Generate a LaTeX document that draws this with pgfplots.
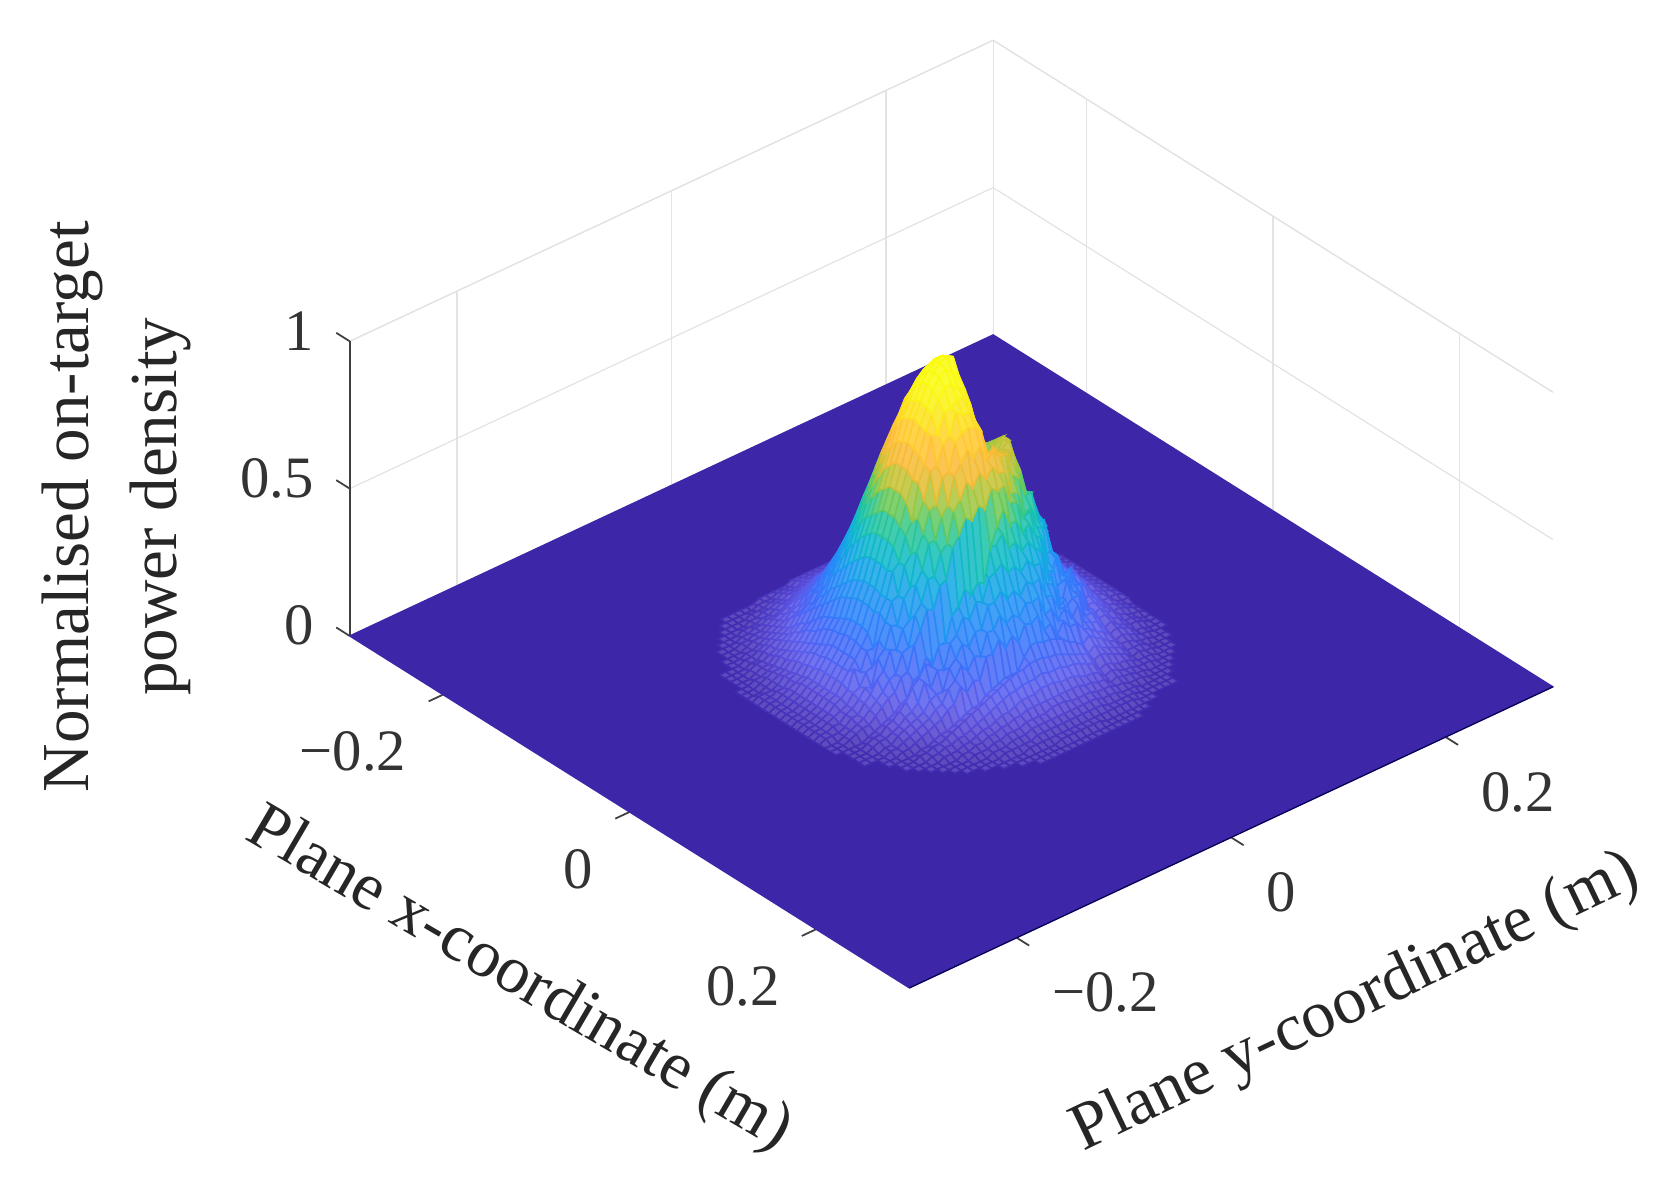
\documentclass[border=0pt]{standalone}
\usepackage{fontspec}
\setmainfont{Liberation Serif}
\usepackage{pgfplots}
\usepackage{pgfplotstable}
\pgfplotsset{compat=1.18}

% z in percent of the peak; rows run along x (-0.144..0.144), columns along y
\pgfplotstableread[header=false]{
0 0 0 0 0 0 0 0 0 1 1 1 1 1 1 2 2 2 2 2 3 3 3 3 3 3 3 3 3 3 3 2 2 2 2 2 1 1 1 1 1 1 0 0 0 0 0 0 0
0 0 0 0 0 0 0 0 1 1 1 1 1 1 2 2 2 3 3 3 4 4 4 4 4 4 4 4 4 4 4 3 3 3 2 2 2 1 1 1 1 1 1 0 0 0 0 0 0
0 0 0 0 0 0 0 1 1 1 1 1 2 2 2 3 3 4 4 4 5 5 5 5 6 6 6 5 5 5 5 4 4 4 3 3 2 2 2 1 1 1 1 1 0 0 0 0 0
0 0 0 0 0 0 1 1 1 1 1 2 2 3 3 4 4 5 5 6 6 7 7 7 7 7 7 7 7 7 6 6 5 5 4 4 3 3 2 2 1 1 1 1 1 0 0 0 0
0 0 0 0 0 1 1 1 1 2 2 2 3 3 4 5 5 6 7 7 8 9 9 9 10 10 10 9 9 9 8 7 7 6 5 5 4 3 3 2 2 2 1 1 1 1 0 0 0
0 0 0 0 1 1 1 1 2 2 3 3 4 4 5 6 7 8 9 10 11 11 12 12 12 13 12 12 12 11 11 10 9 8 7 6 5 4 4 3 3 2 2 1 1 1 1 0 0
0 0 0 0 1 1 1 2 2 3 3 4 5 6 7 8 9 10 11 12 13 14 15 15 16 16 16 15 15 14 13 12 11 10 9 8 7 6 5 4 3 3 2 2 1 1 1 0 0
0 0 0 1 1 1 1 2 3 3 4 5 6 7 8 10 11 12 14 15 17 18 19 19 20 20 20 19 19 18 17 15 14 12 11 10 8 7 6 5 4 3 3 2 1 1 1 1 0
0 0 0 1 1 1 2 2 3 4 5 6 7 9 10 12 14 15 17 19 20 22 23 24 24 24 24 24 23 22 20 19 17 15 14 12 10 9 7 6 5 4 3 2 2 1 1 1 0
0 1 1 1 1 2 2 3 4 5 6 7 9 10 12 15 17 19 21 23 25 26 28 29 29 30 29 29 28 26 25 23 21 19 17 15 12 10 9 7 6 5 4 3 2 2 1 1 1
0 1 1 1 1 2 2 4 5 6 7 8 11 12 15 17 20 22 25 27 30 32 33 34 35 35 35 34 33 32 30 27 25 22 20 17 15 12 11 8 7 6 5 4 2 2 1 1 1
0 1 1 1 2 3 3 4 5 7 8 10 13 15 18 20 23 26 29 32 35 37 39 41 41 42 41 41 39 37 35 32 29 26 23 20 18 15 13 10 8 7 5 4 3 3 2 1 1
0 1 1 1 2 3 3 5 6 8 10 12 15 17 20 24 27 31 34 37 41 43 46 47 48 49 48 47 46 43 41 37 34 31 27 24 20 17 15 12 10 8 6 5 3 3 2 1 1
1 1 1 2 2 3 4 6 7 9 11 13 17 20 23 27 31 35 39 43 47 50 52 54 55 56 55 54 52 50 47 43 39 35 31 27 23 20 17 13 11 9 7 6 4 3 2 2 1
1 1 1 2 3 4 4 6 8 10 13 15 19 22 27 31 35 40 44 49 53 56 59 61 62 63 62 61 54 51 50 47 44 40 35 31 27 22 19 15 13 10 8 6 4 4 3 2 1
1 1 1 2 3 4 5 7 9 11 14 17 21 25 30 34 39 44 49 54 59 63 66 68 70 70 70 67 60 57 56 52 49 44 39 34 30 25 21 17 14 11 9 7 5 4 3 2 1
1 2 2 2 3 5 5 8 10 12 15 19 23 27 32 38 43 49 54 59 65 69 73 75 76 77 76 73 66 62 60 57 54 49 43 38 32 27 23 19 15 12 10 8 5 5 3 2 2
1 2 2 3 3 5 6 8 11 13 17 20 25 29 35 41 47 53 58 64 70 74 78 81 83 84 83 79 71 67 64 60 58 53 47 41 35 29 25 20 17 13 11 8 6 5 3 3 2
1 2 2 3 4 5 6 9 12 14 18 21 27 31 37 44 50 56 62 69 75 79 84 86 88 89 88 83 75 71 66 62 60 56 50 44 37 31 27 21 18 14 12 9 6 5 4 3 2
1 2 2 3 4 6 7 9 12 15 19 22 28 33 39 46 52 59 66 72 79 83 88 91 93 94 93 87 78 73 67 63 61 58 52 46 39 33 28 22 19 15 12 9 7 6 4 3 2
1 2 2 3 4 6 7 10 13 16 19 23 29 34 41 48 54 61 68 75 82 87 91 94 96 97 96 90 80 73 66 62 62 60 54 48 41 34 29 23 19 16 13 10 7 6 4 3 2
1 2 2 3 4 6 7 10 13 16 20 24 30 35 42 49 56 63 70 76 83 88 93 96 98 99 98 90 80 71 64 60 62 62 56 49 42 35 30 24 20 16 13 10 7 6 4 3 2
1 2 2 3 4 6 7 10 13 16 20 24 30 35 42 49 56 63 70 77 84 89 94 97 99 100 99 90 78 68 62 60 63 64 56 49 42 35 30 24 20 16 13 10 7 6 4 3 2
1 2 2 3 4 6 7 10 13 16 20 24 30 35 42 49 56 63 70 76 83 88 93 96 98 96 94 88 78 68 62 62 65 66 54 49 42 35 30 24 20 16 13 10 7 6 4 3 2
1 2 2 3 4 6 7 10 13 16 19 23 29 34 41 48 54 61 68 75 82 87 91 94 94 92 90 84 75 66 62 63 67 66 52 48 41 34 29 23 19 16 13 10 7 6 4 3 2
1 2 2 3 4 6 7 9 15 13 19 19 30 34 42 44 52 56 68 73 82 81 88 88 90 90 86 78 72 62 65 66 68 61 39 43 41 34 31 20 14 12 14 9 7 6 4 3 2
1 2 2 3 4 5 6 9 10 14 15 23 28 34 35 44 47 58 63 72 73 79 81 88 86 86 82 76 67 68 67 67 64 58 35 46 38 34 25 21 10 16 13 9 6 5 4 3 2
1 2 2 3 3 5 6 8 11 10 19 21 28 27 35 38 49 54 61 62 70 71 80 82 83 82 80 71 72 69 68 64 60 52 37 42 38 27 25 17 13 13 11 8 6 5 3 3 2
1 2 2 2 3 5 5 8 10 14 16 22 21 27 29 40 44 52 52 59 62 71 74 78 74 77 71 73 70 70 62 60 53 53 33 41 30 27 20 21 11 15 10 8 5 5 3 2 2
1 1 1 2 3 4 5 7 9 11 14 15 21 22 32 35 42 42 49 51 61 64 69 66 70 67 70 67 66 58 57 49 50 45 32 32 30 22 23 18 10 11 9 7 5 4 3 2 1
1 1 1 2 3 4 4 6 8 10 11 15 16 24 28 34 33 40 41 51 54 59 57 61 59 65 63 64 57 56 50 51 45 43 24 31 24 24 20 18 10 10 8 6 4 4 3 2 1
1 1 1 1 1 2 3 4 5 6 8 9 14 15 20 17 22 22 30 32 37 34 37 36 47 53 58 52 52 47 49 44 42 33 23 24 25 21 20 11 8 9 7 6 4 3 2 2 1
0 1 1 1 2 3 3 5 6 8 10 14 16 20 18 24 24 33 35 40 39 43 43 49 49 52 46 47 43 45 42 40 32 31 17 26 21 20 13 12 8 8 6 5 3 3 2 1 1
0 1 1 1 2 3 3 4 5 7 8 10 16 13 18 17 25 27 32 30 35 34 41 42 44 40 41 38 41 38 38 30 29 23 19 21 21 13 13 10 6 7 5 4 3 3 2 1 1
0 1 1 1 1 2 2 4 5 6 7 8 11 12 12 19 21 25 23 27 27 34 34 37 33 35 32 36 34 35 28 27 22 24 16 20 13 12 11 8 5 6 5 4 2 2 1 1 1
0 1 1 1 1 2 2 3 4 5 6 7 9 10 14 16 20 17 21 20 27 27 31 27 29 27 31 30 31 24 25 20 23 20 16 13 12 10 9 7 4 5 4 3 2 2 1 1 1
0 0 0 1 1 1 2 2 3 4 5 6 7 9 10 15 12 15 14 21 21 25 21 24 21 26 25 27 21 22 17 21 18 18 10 12 10 9 7 6 4 4 3 2 2 1 1 1 0
0 0 0 1 1 1 1 1 2 2 3 4 4 5 6 7 8 8 10 11 12 13 13 13 17 20 20 19 19 18 17 15 14 12 8 10 8 7 6 5 3 3 3 2 1 1 1 1 0
0 0 0 0 1 1 1 2 2 3 3 4 5 6 7 8 9 10 11 12 13 14 15 15 16 16 16 15 15 14 13 12 11 10 7 8 7 6 5 4 2 3 2 2 1 1 1 0 0
0 0 0 0 1 1 1 1 2 2 3 3 4 4 5 6 7 8 9 10 11 11 12 12 12 13 12 12 12 11 11 10 9 8 5 6 5 4 4 3 2 2 2 1 1 1 1 0 0
0 0 0 0 0 1 1 1 1 2 2 2 3 3 4 5 5 6 7 7 8 9 9 9 10 10 10 9 9 9 8 7 7 6 4 5 4 3 3 2 2 2 1 1 1 1 0 0 0
0 0 0 0 0 0 1 1 1 1 1 2 2 3 3 4 4 5 5 6 6 7 7 7 7 7 7 7 7 7 6 6 5 5 3 4 3 3 2 2 1 1 1 1 1 0 0 0 0
0 0 0 0 0 0 0 1 1 1 1 1 2 2 2 3 3 4 4 4 5 5 5 5 6 6 6 5 5 5 5 4 4 4 3 3 2 2 2 1 1 1 1 1 0 0 0 0 0
0 0 0 0 0 0 0 0 1 1 1 1 1 1 2 2 2 3 3 3 4 4 4 4 4 4 4 4 4 4 4 3 3 3 2 2 2 1 1 1 1 1 1 0 0 0 0 0 0
0 0 0 0 0 0 0 0 0 1 1 1 1 1 1 2 2 2 2 2 3 3 3 3 3 3 3 3 3 3 3 2 2 2 2 2 1 1 1 1 1 1 0 0 0 0 0 0 0
0 0 0 0 0 0 0 0 0 0 0 1 1 1 1 1 1 1 2 2 2 2 2 2 2 2 2 2 2 2 2 2 2 2 2 1 1 1 1 1 1 1 0 0 0 0 0 0 0
0 0 0 0 0 0 0 0 0 0 0 0 0 1 1 1 1 1 1 1 1 1 2 2 2 2 2 2 2 1 1 1 1 1 1 1 1 1 0 0 0 0 0 0 0 0 0 0 0
0 0 0 0 0 0 0 0 0 0 0 0 0 0 0 1 1 1 1 1 1 1 1 1 1 1 1 1 1 1 1 1 1 1 1 1 0 0 0 0 0 0 0 0 0 0 0 0 0
0 0 0 0 0 0 0 0 0 0 0 0 0 0 0 0 0 1 1 1 1 1 1 1 1 1 1 1 1 1 1 1 1 1 0 0 0 0 0 0 0 0 0 0 0 0 0 0 0
}\hilltable

\def\hillpts{}
\foreach \r in {0,...,48}{
  \pgfmathsetmacro{\xx}{(\r-24)*0.006}
  \foreach \c in {0,...,48}{
    \pgfplotstablegetelem{\r}{[index]\c}\of\hilltable
    \pgfmathsetmacro{\yy}{(\c-24)*0.006}
    \xdef\hillpts{\hillpts (\xx,\yy,\pgfplotsretval)}
  }
}

\begin{document}
\begin{tikzpicture}
\begin{axis}[
  anchor=origin, at={(0,0)},
  disabledatascaling,
  x={(264pt,-166pt)}, y={(303.5pt,142pt)}, z={(0pt,0.834pt)},
  xmin=-0.3, xmax=0.3, ymin=-0.3, ymax=0.3, zmin=0, zmax=100,
  clip=false,
  axis line style={draw=none},
  grid=major,
  grid style={black!11, line width=0.35pt},
  tick style={draw=none},
  major tick length=0pt,
  xtick={-0.2,0,0.2}, ytick={-0.2,0,0.2}, ztick={0,50,100},
  xticklabels={−0.2,0,0.2}, yticklabels={−0.2,0,0.2}, zticklabels={0,0.5,1},
  ticklabel style={font=\fontsize{16.6}{17}\selectfont, black!80, inner sep=0pt},
  xticklabel style={anchor=east, xshift=-10.2pt, yshift=-16.2pt},
  yticklabel style={anchor=west, xshift=9.9pt, yshift=-15.6pt},
  zticklabel style={anchor=east, xshift=-10pt, yshift=3pt},
  label style={font=\fontsize{19}{25}\selectfont, black!85},
  xlabel={Plane x-coordinate (m)},
  ylabel={Plane y-coordinate (m)},
  zlabel={Normalised on-target\\power density},
  xlabel style={at={(rel axis cs:0.69,-0.337,0)}, anchor=center, rotate=-30.3},
  ylabel style={at={(rel axis cs:1.366,0.376,0)}, anchor=center, rotate=25.5},
  zlabel style={at={(rel axis cs:-0.1780,-0.2080,0.4388)}, anchor=center, rotate=0, align=center},
  colormap={parulaish}{
    rgb=(0.2422,0.1504,0.6603) rgb=(0.33,0.27,0.82) rgb=(0.36,0.36,0.92)
    rgb=(0.30,0.40,0.96) rgb=(0.24,0.44,0.98) rgb=(0.19,0.50,0.98)
    rgb=(0.15,0.55,0.97) rgb=(0.11,0.61,0.93) rgb=(0.07,0.67,0.88)
    rgb=(0.06,0.72,0.80) rgb=(0.10,0.76,0.68) rgb=(0.20,0.78,0.55)
    rgb=(0.45,0.79,0.33) rgb=(0.72,0.77,0.22) rgb=(0.93,0.74,0.20)
    rgb=(1,0.73,0.22) rgb=(1,0.80,0.18) rgb=(0.99,0.88,0.12)
    rgb=(0.98,0.95,0.08) rgb=(0.98,0.98,0.06) rgb=(0.98,0.98,0.06)},
  point meta min=0, point meta max=100,
]
% box lines behind the surface
\draw[black!11, line width=0.35pt] (axis cs:-0.3,-0.3,100) -- (axis cs:-0.3,0.3,100) -- (axis cs:0.3,0.3,100);
\draw[black!11, line width=0.35pt] (axis cs:-0.3,0.3,0) -- (axis cs:-0.3,0.3,100);
\draw[black!75, line width=0.5pt] (axis cs:-0.3,-0.3,0) -- (axis cs:-0.3,-0.3,100);
% short ticks, each along the neighbouring floor or wall edge
\foreach \t in {-0.2,0,0.2}{
  \edef\tmp{\noexpand\draw[black!75, line width=0.5pt] (axis cs:\t,-0.3,0) -- (axis cs:\t,-0.3134,0);}\tmp
  \edef\tmp{\noexpand\draw[black!75, line width=0.5pt] (axis cs:0.3,\t,0) -- (axis cs:0.3134,\t,0);}\tmp
}
\foreach \t in {0,50,100}{
  \edef\tmp{\noexpand\draw[black!75, line width=0.5pt] (axis cs:-0.3,-0.3,\t) -- (axis cs:-0.3145,-0.3,\t);}\tmp
}
% flat floor of the surface
\addplot3[surf, shader=flat, mesh/rows=2, mesh/cols=2] coordinates {
  (-0.3,-0.3,0) (-0.3,0.3,0) (0.3,-0.3,0) (0.3,0.3,0)};
\draw[black!70!blue, line width=0.3pt] (axis cs:0.3,-0.3,0) -- (axis cs:0.3,0.3,0);
\def\drawhill{\addplot3[surf, shader=faceted, z buffer=sort,
  mesh/ordering=y varies, mesh/rows=49, mesh/cols=49,
  restrict z to domain=1:100, unbounded coords=jump,
  fill=mapped color!86!white, faceted color=mapped color, line width=0.45pt] coordinates}
\expandafter\drawhill\expandafter{\hillpts};
\end{axis}
\pgfresetboundingbox
\path (-269.25pt,-147.3pt) rectangle (201.15pt,187.2pt);
\end{tikzpicture}
\end{document}
